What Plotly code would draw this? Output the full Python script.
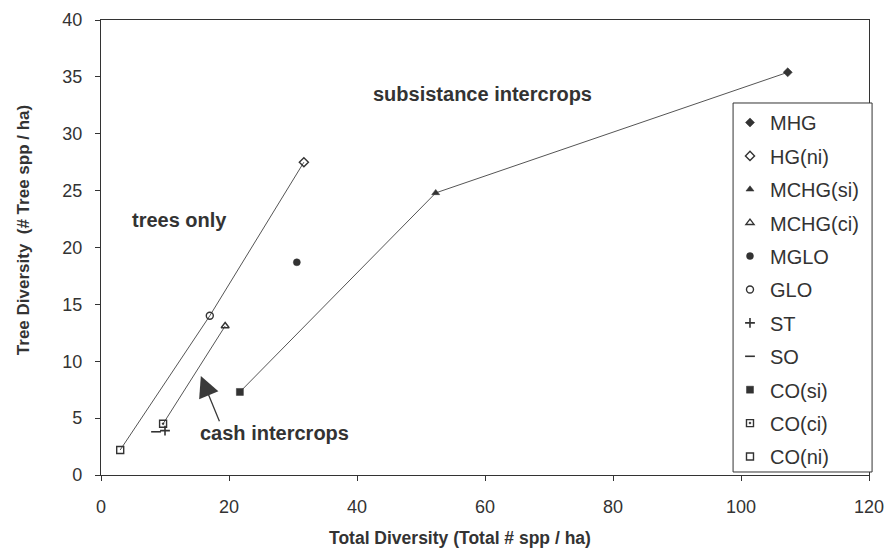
import plotly.graph_objects as go

# ---- data ----
names = ["MHG", "HG(ni)", "MCHG(si)", "MCHG(ci)", "MGLO", "GLO", "ST", "SO", "CO(si)", "CO(ci)", "CO(ni)"]
total_div = [107.3, 31.7, 52.3, 19.4, 30.6, 17.0, 10.0, 8.6, 21.7, 9.7, 3.0]
tree_div = [35.4, 27.5, 24.8, 13.1, 18.7, 14.0, 3.9, 3.8, 7.3, 4.5, 2.2]
symbols = ["diamond", "diamond-open", "triangle-up", "triangle-up-open", "circle", "circle-open",
           "cross-thin", "line-ew", "square", "square-open-dot", "square-open"]

trees_only_line = ["CO(ni)", "GLO", "HG(ni)"]
cash_line = ["CO(ci)", "MCHG(ci)"]
subsistence_line = ["CO(si)", "MCHG(si)", "MHG"]

x_ticks = [0, 20, 40, 60, 80, 100, 120]
y_ticks = [0, 5, 10, 15, 20, 25, 30, 35, 40]

lookup = {n: (x, y) for n, x, y in zip(names, total_div, tree_div)}

INK = "#333333"
FONT = "Liberation Sans, Arial, sans-serif"

fig = go.Figure()

for grp in [trees_only_line, cash_line, subsistence_line]:
    fig.add_trace(go.Scatter(
        x=[lookup[n][0] for n in grp], y=[lookup[n][1] for n in grp],
        mode="lines", line=dict(color="#555555", width=1), showlegend=False, hoverinfo="skip"))

for n, x, y, s in zip(names, total_div, tree_div, symbols):
    thin = s in ("cross-thin", "line-ew")
    is_open = "open" in s or thin
    fig.add_trace(go.Scatter(
        x=[x], y=[y], mode="markers", name=n, legendgroup=n,
        marker=dict(symbol=s, size=7 if thin else 7, color=INK,
                    line=dict(color=INK, width=1.6 if thin else (1.4 if is_open else 0.5)))))

annos = [
    dict(x=59.6, y=33.5, text="<b>subsistance intercrops</b>"),
    dict(x=12.2, y=22.4, text="<b>trees only</b>"),
    dict(x=27.1, y=3.7, text="<b>cash intercrops</b>"),
]
for a in annos:
    fig.add_annotation(x=a["x"], y=a["y"], text=a["text"], showarrow=False,
                       font=dict(family=FONT, size=20, color=INK), xref="x", yref="y")

fig.add_annotation(x=15.6, y=8.7, ax=18.6, ay=4.6, axref="x", ayref="y", xref="x", yref="y",
                   text="", showarrow=True, arrowhead=2, arrowsize=3.2, arrowwidth=1.3,
                   arrowcolor="#3a3a3a")

# axis titles
fig.add_annotation(xref="paper", yref="paper", x=0.467, y=-0.138, xanchor="center", yanchor="middle",
                   text="<b>Total Diversity (Total # spp / ha)</b>", showarrow=False,
                   font=dict(family=FONT, size=17.5, color=INK))
fig.add_annotation(xref="paper", yref="paper", x=-0.1016, y=0.538, xanchor="center", yanchor="middle",
                   textangle=-90, text="<b>Tree Diversity&nbsp; (# Tree spp / ha)</b>", showarrow=False,
                   font=dict(family=FONT, size=17, color=INK))

# legend frame (white box over the plot frame, as in the original)
fig.add_shape(type="rect", xref="paper", yref="paper", x0=0.823, x1=1.004, y0=0.0066, y1=0.8176,
              line=dict(color="#333333", width=1), fillcolor="white", layer="above")

fig.update_layout(
    width=884, height=540,
    margin=dict(l=93, r=23, t=12, b=73),
    paper_bgcolor="white", plot_bgcolor="white",
    font=dict(family=FONT, color=INK),
    legend=dict(x=0.819, y=0.8176, xanchor="left", yanchor="top",
                borderwidth=0, bgcolor="rgba(0,0,0,0)",
                font=dict(family=FONT, size=20, color=INK), tracegroupgap=4.4,
                itemwidth=30),
)
fig.update_xaxes(range=[0, 120], tickvals=x_ticks, showgrid=False, zeroline=False,
                 showline=True, linecolor="#333", linewidth=1.2, mirror=True,
                 ticks="outside", ticklen=5, tickcolor="#333", ticklabelstandoff=10,
                 tickfont=dict(family=FONT, size=18, color=INK),
                 automargin=False)
fig.update_yaxes(range=[0, 40], tickvals=y_ticks, showgrid=False, zeroline=False,
                 showline=True, linecolor="#333", linewidth=1.2, mirror=True,
                 ticks="outside", ticklen=5, tickcolor="#333", ticklabelstandoff=9,
                 tickfont=dict(family=FONT, size=18, color=INK),
                 automargin=False)

fig.write_html("out.html")
